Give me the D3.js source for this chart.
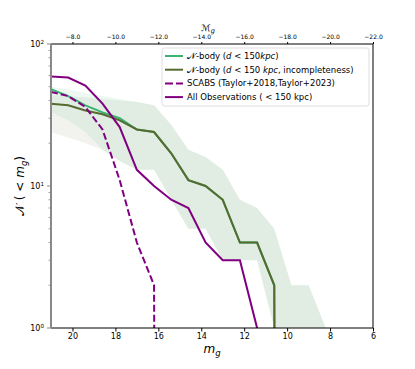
<!DOCTYPE html>
<html>
<head>
<meta charset="utf-8">
<script src="https://cdn.jsdelivr.net/npm/d3@7/dist/d3.min.js"></script>
<style>
  body { margin: 0; background: #fff; }
  svg { display: block; font-family: "DejaVu Sans", sans-serif; }
</style>
</head>
<body>
<div id="viz"></div>
<script>
// apparent magnitude bins (m_g)
var mags = [21, 20.2, 19.4, 18.6, 17.8, 17.0, 16.2, 15.4, 14.6, 13.8, 13.0, 12.2, 11.4, 10.6, 9.8, 9.0, 8.2, 7.4];

// cumulative counts N(< m_g)
var nbody     = [48, 43, 37, 33, 30, 25, 24, 17, 11, 10, 8, 4, 4, 2, 0, 0, 0, 0];
var nbodyInc  = [38, 37, 34, 32, 29, 25, 24, 17, 11, 10, 8, 4, 4, 2, 0, 0, 0, 0];
var scabs     = [46, 43, 36, 25, 11, 4, 2, 0, 0, 0, 0, 0, 0, 0, 0, 0, 0, 0];
var allObs    = [59, 58, 51, 38, 26, 13, 10, 8, 7, 4, 3, 3, 1, 0, 0, 0, 0, 0];

// scatter bands
var nbodyHi = [50, 48, 45, 43, 41, 39, 37, 27, 18, 16, 13, 8, 7, 5, 2, 2, 1, 0];
var nbodyLo = [33, 29, 24, 18, 15, 13, 13, 8, 5, 5, 3, 3, 3, 1, 0, 0, 0, 0];
var incHi   = [44, 43, 42, 41, 40, 39, 37, 27, 18, 16, 13, 8, 7, 5, 2, 2, 1, 0];
var incLo   = [24, 22, 20, 18, 15, 13, 13, 8, 5, 5, 3, 3, 3, 1, 0, 0, 0, 0];

// axis ticks
var xTicks = [20, 18, 16, 14, 12, 10, 8, 6];
var topTicks = [-8, -10, -12, -14, -16, -18, -20, -22];
var distMod = 28;
var yMajor = [1, 10, 100];

var width = 415, height = 369;
var margin = { top: 44, right: 42, bottom: 41, left: 51 };

var svg = d3.select("#viz").append("svg")
  .attr("width", width)
  .attr("height", height);

var xScale = d3.scaleLinear().domain([21, 6]).range([margin.left, width - margin.right]);
var topScale = d3.scaleLinear()
  .domain(xScale.domain().map(function (m) { return m - distMod; }))
  .range(xScale.range());
var yScale = d3.scaleLog().domain([1, 100]).range([height - margin.bottom, margin.top]);

// zero counts go way off the bottom, like matplotlib does on a log axis
var yv = function (v) { return yScale(Math.max(v, 1e-30)); };

svg.append("clipPath").attr("id", "plotClip")
  .append("rect")
  .attr("x", margin.left).attr("y", margin.top)
  .attr("width", width - margin.left - margin.right)
  .attr("height", height - margin.top - margin.bottom);

var plot = svg.append("g").attr("clip-path", "url(#plotClip)");

var band = function (lo, hi) {
  return d3.area()
    .x(function (d, i) { return xScale(mags[i]); })
    .y0(function (d, i) { return yv(lo[i]); })
    .y1(function (d, i) { return yv(hi[i]); })(mags);
};

plot.append("path").attr("d", band(nbodyLo, nbodyHi))
  .attr("fill", "#3cb371").attr("fill-opacity", 0.09);
plot.append("path").attr("d", band(incLo, incHi))
  .attr("fill", "#556b2f").attr("fill-opacity", 0.08);

var line = function (vals) {
  return d3.line()
    .x(function (d, i) { return xScale(mags[i]); })
    .y(function (d, i) { return yv(vals[i]); })(mags);
};

var series = [
  { vals: nbody, color: "#3cb371", dash: null },
  { vals: nbodyInc, color: "#556b2f", dash: null },
  { vals: scabs, color: "#800080", dash: "7,3" },
  { vals: allObs, color: "#800080", dash: null }
];

series.forEach(function (s) {
  plot.append("path")
    .attr("d", line(s.vals))
    .attr("fill", "none")
    .attr("stroke", s.color)
    .attr("stroke-width", 2)
    .attr("stroke-dasharray", s.dash);
});

// frame
var x0 = margin.left, x1 = width - margin.right, y0 = margin.top, y1 = height - margin.bottom;
svg.append("line").attr("x1", x0).attr("x2", x1).attr("y1", y0).attr("y2", y0).attr("stroke", "#000").attr("stroke-width", 1);
svg.append("line").attr("x1", x0).attr("x2", x1).attr("y1", y1).attr("y2", y1).attr("stroke", "#000").attr("stroke-width", 1);
svg.append("line").attr("x1", x1).attr("x2", x1).attr("y1", y0).attr("y2", y1).attr("stroke", "#000").attr("stroke-width", 1);

// bottom axis
var xAxis = d3.axisBottom(xScale).tickValues(xTicks).tickSize(3.5).tickPadding(2).tickFormat(d3.format("d"));
var gx = svg.append("g").attr("transform", "translate(0," + y1 + ")").call(xAxis);
gx.select(".domain").remove();
gx.selectAll("text").attr("font-size", 8).attr("font-family", "DejaVu Sans").attr("fill", "#000");

// top axis (absolute magnitude)
var topAxis = d3.axisTop(topScale).tickValues(topTicks).tickSize(2).tickPadding(3).tickFormat(d3.format(".1f"));
var gt = svg.append("g").attr("transform", "translate(0," + y0 + ")").call(topAxis);
gt.select(".domain").remove();
gt.selectAll("text").attr("font-size", 6).attr("font-family", "DejaVu Sans").attr("fill", "#000");

svg.append("text")
  .attr("x", 208).attr("y", 31)
  .attr("text-anchor", "middle")
  .attr("font-size", 9)
  .html('<tspan font-style="italic">ℳ</tspan><tspan font-size="6.5" dy="2" font-style="italic">g</tspan>');

// left axis: grey spine, log ticks
var gy = svg.append("g");
gy.append("line").attr("x1", x0).attr("x2", x0).attr("y1", y0).attr("y2", y1)
  .attr("stroke", "#888").attr("stroke-width", 2);

var minor = [];
[1, 10].forEach(function (dec) {
  for (var k = 2; k <= 9; k++) minor.push(dec * k);
});
gy.selectAll("line.minor").data(minor).enter().append("line")
  .attr("class", "minor")
  .attr("x1", x0 - 2.5).attr("x2", x0)
  .attr("y1", function (d) { return yScale(d); })
  .attr("y2", function (d) { return yScale(d); })
  .attr("stroke", "#888").attr("stroke-width", 0.8);
gy.selectAll("line.major").data(yMajor).enter().append("line")
  .attr("class", "major")
  .attr("x1", x0 - 4).attr("x2", x0)
  .attr("y1", function (d) { return yScale(d); })
  .attr("y2", function (d) { return yScale(d); })
  .attr("stroke", "#888").attr("stroke-width", 1);
gy.selectAll("text.ylab").data(yMajor).enter().append("text")
  .attr("class", "ylab")
  .attr("x", x0 - 7)
  .attr("y", function (d) { return yScale(d) + 3; })
  .attr("text-anchor", "end")
  .attr("font-size", 8)
  .html(function (d) {
    return '10<tspan font-size="5.6" dy="-3.5">' + Math.round(Math.log10(d)) + '</tspan>';
  });

// axis labels
svg.append("text")
  .attr("transform", "translate(24," + ((y0 + y1) / 2) + ") rotate(-90)")
  .attr("text-anchor", "middle")
  .attr("font-size", 12)
  .html('𝒩 ( &lt; <tspan font-style="italic">m</tspan><tspan font-size="8.5" dy="2.5" font-style="italic">g</tspan><tspan dy="-2.5">)</tspan>');

svg.append("text")
  .attr("x", 212).attr("y", 353)
  .attr("text-anchor", "middle")
  .attr("font-size", 12)
  .html('<tspan font-style="italic">m</tspan><tspan font-size="8.5" dy="2.5" font-style="italic">g</tspan>');

// legend
var legend = svg.append("g");
legend.append("rect")
  .attr("x", 162).attr("y", 48).attr("width", 207).attr("height", 58)
  .attr("rx", 2.5)
  .attr("fill", "#fff").attr("fill-opacity", 0.8)
  .attr("stroke", "#d5d5d5").attr("stroke-width", 0.8);

var legendItems = [
  { color: "#3cb371", dash: null, label: '𝒩-body (<tspan font-style="italic">d</tspan> &lt; 150<tspan font-style="italic">kpc</tspan>)' },
  { color: "#556b2f", dash: null, label: '𝒩-body (<tspan font-style="italic">d</tspan> &lt; 150 <tspan font-style="italic">kpc</tspan>, incompleteness)' },
  { color: "#800080", dash: "8,3", label: 'SCABS (Taylor+2018,Taylor+2023)' },
  { color: "#800080", dash: null, label: 'All Observations ( &lt; 150 kpc)' }
];

legendItems.forEach(function (item, i) {
  var ly = 56 + i * 13.7;
  legend.append("line")
    .attr("x1", 165).attr("x2", 183).attr("y1", ly).attr("y2", ly)
    .attr("stroke", item.color).attr("stroke-width", 2)
    .attr("stroke-dasharray", item.dash);
  legend.append("text")
    .attr("x", 187).attr("y", ly + 3)
    .attr("font-size", 8.5)
    .html(item.label);
});
</script>
</body>
</html>
